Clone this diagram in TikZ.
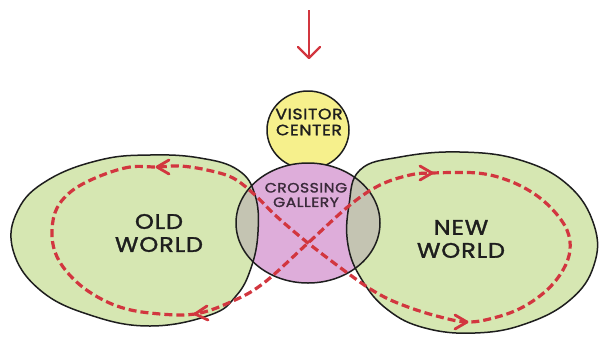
\documentclass[tikz,border=0pt]{standalone}
\usepackage{fontspec}
\setmainfont{Poppins}[FakeStretch=1.15, LetterSpace=4, FakeBold=1.6]
\definecolor{routered}{HTML}{D2363F}
\definecolor{worldgreen}{HTML}{D6E7B2}
\definecolor{vcyellow}{HTML}{F6F08C}
\definecolor{galpink}{HTML}{DEADDA}
\definecolor{overlapgrey}{HTML}{C4C4B2}
\definecolor{ink}{HTML}{1E1E1E}
\definecolor{galink}{HTML}{3A2A3A}
\newcommand\oldworldpath{plot[smooth cycle, tension=0.7] coordinates {(150,326) (90,315) (40,290) (13,250) (18,210) (48,180) (100,160) (150,155) (200,158) (238,170) (255,195) (258,232) (251,268) (236,296) (210,315)}}
\newcommand\newworldpath{plot[smooth cycle, tension=0.7] coordinates {(360,170) (400,157) (460,152) (520,160) (568,185) (594,225) (594,265) (570,300) (525,324) (475,333) (425,328) (388,310) (362,280) (348,245) (349,205)}}
\newcommand\gallerypath{(308,223) ellipse [x radius=72pt, y radius=60pt]}
\begin{document}
\begin{tikzpicture}[x=1pt,y=-1pt,
  outl/.style={draw=ink, line width=1.5pt},
  route/.style={draw=routered, line width=3.2pt, dash pattern=on 8pt off 4pt},
  chev/.style={draw=routered, line width=2.8pt, line cap=round, line join=round},
  biglbl/.style={font=\fontsize{21}{24}\selectfont, text=ink, align=center},
  smalllbl/.style={font=\fontsize{13.5}{16.5}\selectfont, align=center}]
\useasboundingbox (0,0) rectangle (599,341);
\fill[white] (0,0) rectangle (599,341);
% worlds
\fill[worldgreen] \oldworldpath;
\fill[worldgreen] \newworldpath;
% visitor center
\filldraw[fill=vcyellow, outl] (308,130) ellipse [x radius=41pt, y radius=39pt];
% gallery
\fill[galpink] \gallerypath;
\begin{scope}
  \clip \gallerypath;
  \fill[overlapgrey] \oldworldpath;
  \fill[overlapgrey] \newworldpath;
\end{scope}
\draw[outl] \gallerypath;
\draw[outl] \oldworldpath;
\draw[outl] \newworldpath;
% top arrow
\coordinate (arrS) at (309,10);
\coordinate (arrE) at (309,58);
\draw[routered, line width=2.2pt] (arrS) -- (arrE);
\draw[routered, line width=2.2pt, line cap=round, line join=round] (298,47) -- (arrE) -- (320,47);
% route
\draw[route] plot[smooth cycle, tension=0.6] coordinates {
 (157,167) (130,167) (100,176) (73,190) (57,208) (52,230) (55,252) (67,272) (88,291) (117,306) (150,313) (195,314)
 (235,300) (265,282) (308,243) (350,205) (380,185) (410,175) (432,173)
 (477,173) (507,180) (533,193) (553,210) (567,230) (570,250) (563,270) (547,290) (523,307) (497,317) (467,322)
 (433,315) (400,304) (377,293) (353,277) (308,243) (275,215) (255,195) (233,178) (207,170) (180,166)};
% chevrons
\coordinate (oldTop) at (157,167);
\coordinate (oldBot) at (195,314);
\coordinate (newTop) at (432,173);
\coordinate (newBot) at (467,322);
\draw[chev] (169,160) -- (oldTop) -- (169,174);
\draw[chev] (207,306) -- (oldBot) -- (208,320);
\draw[chev] (420,166) -- (newTop) -- (420,180);
\draw[chev] (455,315) -- (newBot) -- (455,329);
% labels
\node[smalllbl, text=ink, font=\fontsize{15}{18}\selectfont] (vclbl) at (309,122) {VISITOR\\[-2pt]CENTER};
\node[smalllbl, text=galink] (gallbl) at (306,195) {CROSSING\\[-2pt]GALLERY};
\node[biglbl] (oldlbl) at (159,233) {OLD\\[-1pt]WORLD};
\node[biglbl] (newlbl) at (461,239) {NEW\\[-1pt]WORLD};
\end{tikzpicture}
\end{document}
